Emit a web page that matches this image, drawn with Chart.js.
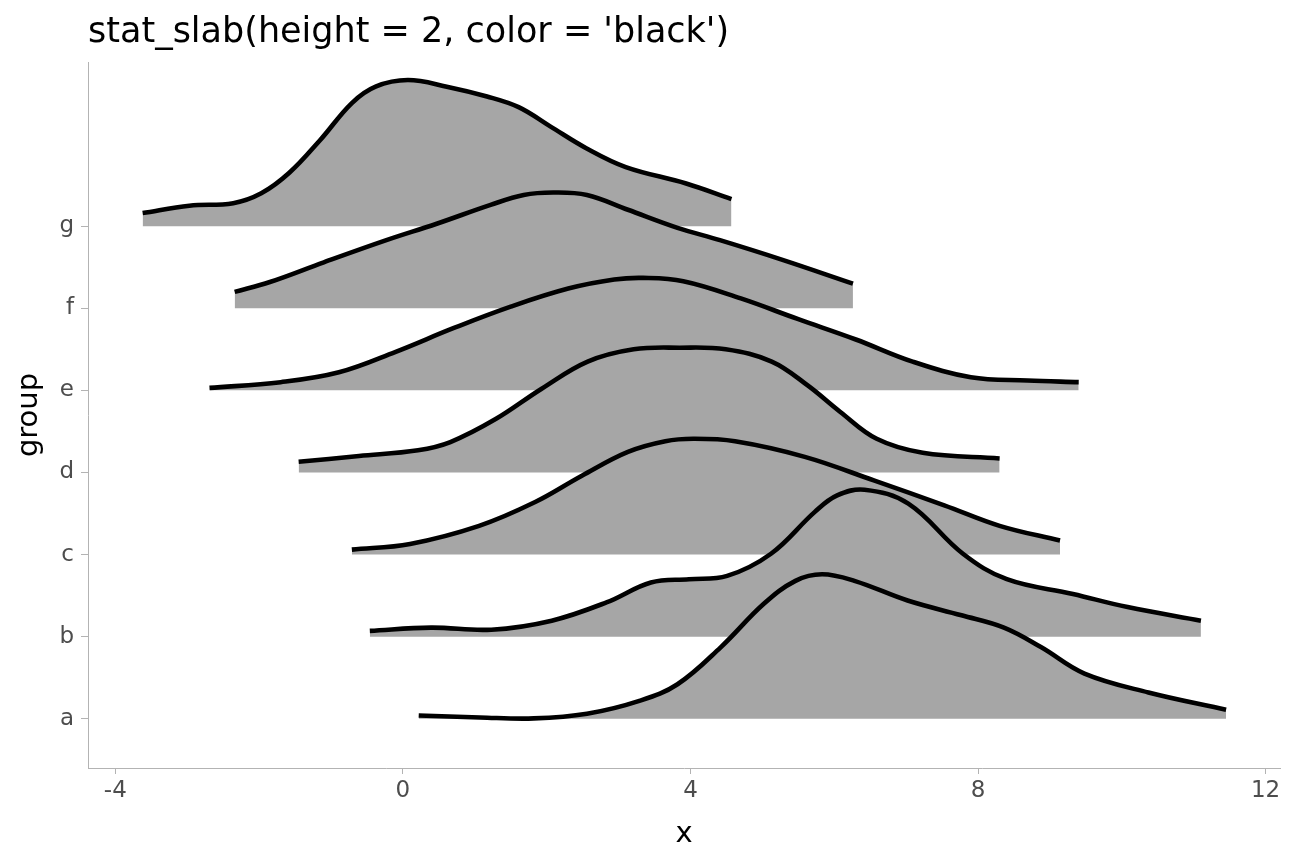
<!DOCTYPE html>
<html>
<head>
<meta charset="utf-8">
<script src="https://cdn.jsdelivr.net/npm/chart.js@4"></script>
<style>
  html, body { margin: 0; padding: 0; background: #ffffff; }
  #wrap { width: 1296px; height: 864px; }
</style>
</head>
<body>
<div id="wrap"><canvas id="c" width="1296" height="864"></canvas></div>
<script>
// ---- data (x positions and slab heights) ----
const groups = ['a', 'b', 'c', 'd', 'e', 'f', 'g'];
const xTicks = [-4, 0, 4, 8, 12];

const aX = [0.22, 1.07, 1.82, 2.56, 3.30, 3.82, 4.42, 5.02, 5.46, 5.83, 6.28, 7.02, 7.77, 8.36, 8.88, 9.48, 10.37, 11.45];
const aH = [0.04, 0.016, 0.004, 0.06, 0.22, 0.42, 0.87, 1.40, 1.68, 1.76, 1.68, 1.44, 1.26, 1.11, 0.87, 0.55, 0.32, 0.11];

const bX = [-0.46, 0.39, 1.23, 2.07, 2.84, 3.45, 3.98, 4.51, 5.12, 5.73, 6.04, 6.42, 7.03, 7.79, 8.40, 9.32, 10.08, 11.10];
const bH = [0.07, 0.11, 0.085, 0.195, 0.42, 0.66, 0.70, 0.74, 1.01, 1.52, 1.72, 1.79, 1.62, 1.01, 0.70, 0.52, 0.36, 0.195];

const cX = [-0.71, 0.10, 1.06, 1.84, 2.49, 3.13, 3.65, 4.04, 4.62, 5.59, 6.56, 7.53, 8.30, 9.14];
const cH = [0.06, 0.13, 0.35, 0.64, 0.96, 1.25, 1.38, 1.41, 1.38, 1.19, 0.90, 0.60, 0.35, 0.17];

const dX = [-1.45, -0.61, 0.21, 0.66, 1.29, 1.93, 2.57, 3.21, 3.85, 4.49, 5.13, 5.63, 6.08, 6.59, 7.23, 8.30];
const dH = [0.13, 0.20, 0.27, 0.37, 0.65, 1.02, 1.35, 1.50, 1.52, 1.50, 1.35, 1.06, 0.74, 0.41, 0.24, 0.17];

const eX = [-2.69, -1.70, -0.89, -0.10, 0.71, 1.50, 2.30, 2.94, 3.34, 3.90, 4.70, 5.49, 6.30, 7.09, 7.90, 8.69, 9.40];
const eH = [0.03, 0.10, 0.22, 0.47, 0.76, 1.02, 1.24, 1.35, 1.37, 1.33, 1.12, 0.87, 0.62, 0.35, 0.16, 0.12, 0.10];

const fX = [-2.34, -1.85, -1.10, -0.23, 0.47, 1.22, 1.68, 2.09, 2.56, 3.13, 3.82, 4.41, 5.28, 6.26];
const fH = [0.20, 0.32, 0.56, 0.83, 1.03, 1.26, 1.38, 1.41, 1.38, 1.20, 0.98, 0.83, 0.59, 0.30];

const gX = [-3.62, -2.97, -2.36, -1.97, -1.58, -1.15, -0.71, -0.38, 0.07, 0.61, 1.17, 1.61, 2.06, 2.55, 3.10, 3.94, 4.57];
const gH = [0.16, 0.25, 0.28, 0.40, 0.65, 1.05, 1.50, 1.70, 1.78, 1.70, 1.58, 1.45, 1.21, 0.95, 0.72, 0.52, 0.33];

const seriesX = [aX, bX, cX, dX, eX, fX, gX];
const seriesH = [aH, bH, cH, dH, eH, fH, gH];

// ---- build datasets: index 0 (a) is drawn last, i.e. on top ----
const datasets = groups.map((g, i) => {
  const base = i + 1;
  return {
    label: g,
    data: seriesX[i].map((x, k) => ({ x: x, y: base + seriesH[i][k] })),
    fill: { value: base },
    backgroundColor: '#a6a6a6',
    borderColor: '#000000',
    borderWidth: 4.6,
    borderCapStyle: 'butt',
    borderJoinStyle: 'round',
    pointRadius: 0,
    pointHoverRadius: 0,
    tension: 0.38
  };
});

const axisGray = '#b3b3b3';
const textGray = '#4d4d4d';
Chart.defaults.font.family = "'DejaVu Sans', sans-serif";

new Chart(document.getElementById('c'), {
  type: 'line',
  data: { datasets: datasets },
  options: {
    responsive: false,
    animation: false,
    events: [],
    layout: { padding: { left: 0, right: 16, top: 0, bottom: 0 } },
    plugins: {
      legend: { display: false },
      tooltip: { enabled: false },
      title: {
        display: true,
        text: "stat_slab(height = 2, color = 'black')",
        align: 'start',
        fullSize: false,
        color: '#000000',
        font: { size: 35, weight: 'normal', lineHeight: 1.2 },
        padding: { top: 12, bottom: 8 }
      }
    },
    scales: {
      x: {
        type: 'linear',
        min: -4.38,
        max: 12.2,
        afterBuildTicks: (axis) => { axis.ticks = xTicks.map(v => ({ value: v })); },
        afterFit: (axis) => { axis.height = 96; },
        grid: { display: true, drawOnChartArea: false, drawTicks: true, tickLength: 6, color: axisGray, lineWidth: 1 },
        border: { display: true, color: axisGray, width: 1 },
        ticks: { color: textGray, font: { size: 23 }, padding: 3, maxRotation: 0 },
        title: { display: true, text: 'x', color: '#000000', font: { size: 29 }, padding: { top: 2, bottom: 12 } }
      },
      y: {
        type: 'linear',
        min: 0.4,
        max: 9.0,
        afterBuildTicks: (axis) => { axis.ticks = groups.map((g, i) => ({ value: i + 1 })); },
        afterFit: (axis) => { axis.width = 88; },
        grid: { display: true, drawOnChartArea: false, drawTicks: true, tickLength: 7, color: axisGray, lineWidth: 1 },
        border: { display: true, color: axisGray, width: 1 },
        ticks: {
          color: textGray,
          font: { size: 23 },
          padding: 7,
          callback: (v) => groups[Math.round(v) - 1] || ''
        },
        title: { display: true, text: 'group', color: '#000000', font: { size: 29 }, padding: { top: 12, bottom: 0 } }
      }
    }
  }
});
</script>
</body>
</html>
